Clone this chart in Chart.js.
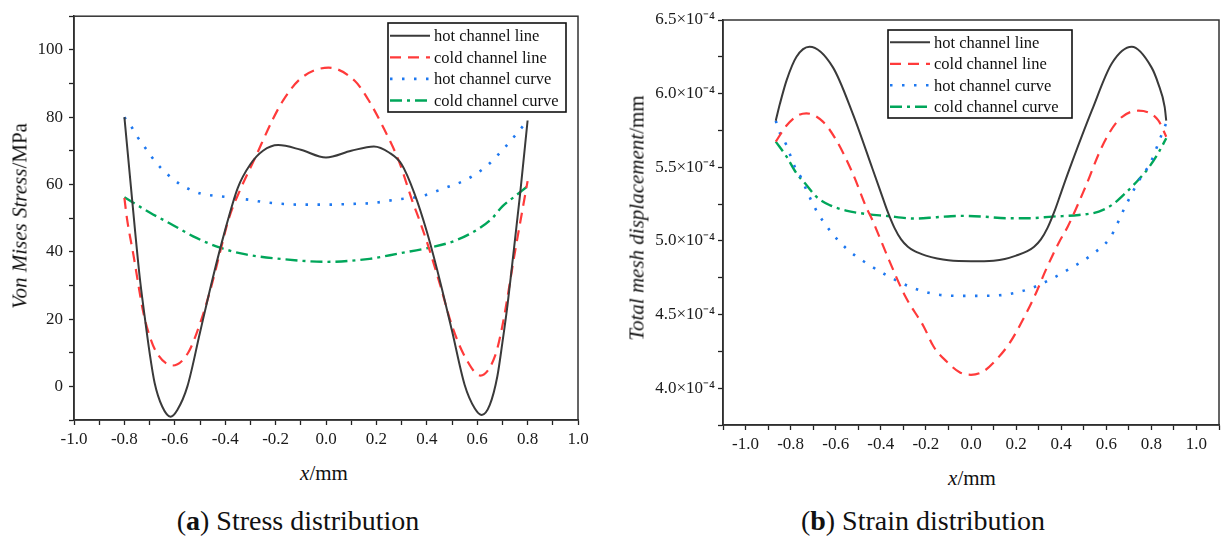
<!DOCTYPE html>
<html>
<head>
<meta charset="utf-8">
<script src="https://cdn.jsdelivr.net/npm/chart.js@4.4.1/dist/chart.umd.min.js"></script>
<style>
  body { margin: 0; background: #fff; width: 1223px; height: 540px; position: relative; overflow: hidden;
         font-family: "Liberation Serif", "Times New Roman", serif; color: #111; }
  canvas { position: absolute; top: 0; }
  .lbl { position: absolute; white-space: nowrap; transform: translate(-50%, -50%); }
  .ytitle { font-size: 21px; transform: translate(-50%, -50%) rotate(-90deg); }
  .xtitle { font-size: 21px; }
  .cap { font-size: 28px; }
</style>
</head>
<body>
<canvas id="stress" width="600" height="460" style="left:0px"></canvas>
<canvas id="strain" width="613" height="465" style="left:610px"></canvas>

<div class="lbl ytitle" style="left:20px; top:216px;"><i>Von Mises Stress</i>/MPa</div>
<div class="lbl xtitle" style="left:324px; top:473px;"><i>x</i>/mm</div>
<div class="lbl cap" style="left:298px; top:521px;">(<b>a</b>) Stress distribution</div>

<div class="lbl ytitle" style="left:637px; top:218px;"><i>Total mesh displacement</i>/mm</div>
<div class="lbl xtitle" style="left:972px; top:478px;"><i>x</i>/mm</div>
<div class="lbl cap" style="left:923px; top:521px;">(<b>b</b>) Strain distribution</div>

<script>
// ---- (a) stress, MPa ----
const stressHotLineX  = [-0.8, -0.77, -0.74, -0.72, -0.7, -0.68, -0.65, -0.617, -0.59, -0.55, -0.5, -0.45, -0.4, -0.35, -0.3, -0.25, -0.19, -0.1, 0, 0.1, 0.19, 0.25, 0.3, 0.35, 0.4, 0.45, 0.5, 0.55, 0.59, 0.618, 0.65, 0.68, 0.7, 0.72, 0.74, 0.77, 0.8];
const stressHotLineY  = [80, 56, 33, 21, 10, 1, -6, -9, -7, 0, 16, 32, 46.5, 59, 66, 70, 71.7, 70.3, 68, 70, 71.3, 69.5, 66, 57.5, 46, 32, 16.5, 0.5, -6.5, -8.5, -5.5, 3, 13, 24, 37, 57, 79];
const stressColdLineX = [-0.8, -0.79, -0.764, -0.725, -0.7, -0.672, -0.609, -0.547, -0.494, -0.454, -0.42, -0.385, -0.34, -0.282, -0.21, -0.17, -0.1, 0.01, 0.114, 0.166, 0.223, 0.29, 0.343, 0.375, 0.41, 0.45, 0.5, 0.555, 0.613, 0.672, 0.7, 0.75, 0.8];
const stressColdLineY = [56, 50, 39, 22, 15, 10, 6.2, 10, 20, 30, 40, 50, 58.5, 67.8, 79.5, 85, 91.5, 94.7, 90.8, 85.4, 77.6, 66.8, 55, 48.5, 40.7, 30.9, 18, 8.3, 3.2, 9.3, 18, 40, 61];
const stressHotCurveX = [-0.8, -0.771, -0.747, -0.72, -0.69, -0.66, -0.626, -0.586, -0.543, -0.498, -0.448, -0.4, -0.349, -0.3, -0.252, -0.203, -0.1, 0, 0.1, 0.186, 0.278, 0.377, 0.47, 0.556, 0.635, 0.7, 0.75, 0.8];
const stressHotCurveY = [80, 77, 74, 71.2, 68, 65.3, 62.8, 60.4, 58.6, 57.3, 56.7, 56.3, 55.8, 55.4, 54.8, 54.4, 54, 54, 54.2, 54.5, 55.5, 56.5, 58.9, 61.4, 65.3, 70.2, 74.5, 79];
const stressColdCurveX = [-0.8, -0.698, -0.619, -0.514, -0.42, -0.318, -0.17, 0, 0.173, 0.29, 0.41, 0.516, 0.609, 0.66, 0.7, 0.75, 0.8];
const stressColdCurveY = [56.2, 51.6, 48.4, 44.1, 41.2, 39.2, 37.8, 37, 37.9, 39.5, 41.2, 43.4, 47, 50, 53.5, 56.5, 59.5];
const stressXLabels = ["-1.0", "-0.8", "-0.6", "-0.4", "-0.2", "0.0", "0.2", "0.4", "0.6", "0.8", "1.0"];
const stressYLabels = ["0", "20", "40", "60", "80", "100"];

// ---- (b) strain, mm ----
const strainHotLineX  = [-0.866, -0.847, -0.818, -0.774, -0.716, -0.613, -0.525, -0.437, -0.4, -0.37, -0.34, -0.31, -0.28, -0.25, -0.2, -0.15, -0.1, 0, 0.1, 0.15, 0.2, 0.25, 0.28, 0.31, 0.34, 0.37, 0.4, 0.435, 0.537, 0.625, 0.713, 0.8, 0.83, 0.859, 0.866];
const strainHotLineY  = [5.816e-4, 5.934e-4, 6.09e-4, 6.25e-4, 6.318e-4, 6.18e-4, 5.866e-4, 5.49e-4, 5.33e-4, 5.2e-4, 5.09e-4, 5.01e-4, 4.96e-4, 4.93e-4, 4.9e-4, 4.88e-4, 4.868e-4, 4.862e-4, 4.866e-4, 4.877e-4, 4.9e-4, 4.93e-4, 4.96e-4, 5.01e-4, 5.09e-4, 5.2e-4, 5.33e-4, 5.48e-4, 5.889e-4, 6.206e-4, 6.318e-4, 6.18e-4, 6.07e-4, 5.91e-4, 5.816e-4];
const strainColdLineX = [-0.866, -0.82, -0.77, -0.73, -0.657, -0.598, -0.525, -0.466, -0.437, -0.364, -0.291, -0.21, -0.166, -0.108, -0.049, 0, 0.054, 0.112, 0.171, 0.23, 0.288, 0.332, 0.39, 0.43, 0.508, 0.581, 0.654, 0.742, 0.83, 0.866];
const strainColdLineY = [5.674e-4, 5.78e-4, 5.85e-4, 5.866e-4, 5.81e-4, 5.685e-4, 5.46e-4, 5.233e-4, 5.14e-4, 4.871e-4, 4.622e-4, 4.419e-4, 4.283e-4, 4.181e-4, 4.107e-4, 4.091e-4, 4.113e-4, 4.193e-4, 4.306e-4, 4.464e-4, 4.645e-4, 4.803e-4, 4.99e-4, 5.1e-4, 5.368e-4, 5.64e-4, 5.82e-4, 5.884e-4, 5.82e-4, 5.708e-4];
const strainHotCurveX = [-0.866, -0.847, -0.821, -0.782, -0.752, -0.73, -0.686, -0.628, -0.554, -0.464, -0.37, -0.272, -0.166, -0.06, 0.049, 0.156, 0.259, 0.354, 0.449, 0.539, 0.618, 0.684, 0.742, 0.798, 0.842, 0.866];
const strainHotCurveY = [5.816e-4, 5.73e-4, 5.658e-4, 5.504e-4, 5.425e-4, 5.346e-4, 5.206e-4, 5.075e-4, 4.95e-4, 4.849e-4, 4.763e-4, 4.69e-4, 4.64e-4, 4.627e-4, 4.627e-4, 4.636e-4, 4.674e-4, 4.74e-4, 4.821e-4, 4.91e-4, 5.025e-4, 5.233e-4, 5.402e-4, 5.538e-4, 5.708e-4, 5.80e-4];
const strainColdCurveX = [-0.866, -0.818, -0.774, -0.73, -0.686, -0.628, -0.554, -0.466, -0.378, -0.25, -0.152, -0.049, 0.054, 0.156, 0.259, 0.361, 0.479, 0.567, 0.625, 0.684, 0.742, 0.786, 0.83, 0.866];
const strainColdCurveY = [5.674e-4, 5.572e-4, 5.459e-4, 5.38e-4, 5.30e-4, 5.244e-4, 5.206e-4, 5.183e-4, 5.17e-4, 5.152e-4, 5.161e-4, 5.17e-4, 5.165e-4, 5.154e-4, 5.154e-4, 5.165e-4, 5.176e-4, 5.199e-4, 5.244e-4, 5.323e-4, 5.414e-4, 5.493e-4, 5.595e-4, 5.697e-4];
const strainXLabels = ["-1.0", "-0.8", "-0.6", "-0.4", "-0.2", "0.0", "0.2", "0.4", "0.6", "0.8", "1.0"];
const strainYLabels = ["4.0×10⁻⁴", "4.5×10⁻⁴", "5.0×10⁻⁴", "5.5×10⁻⁴", "6.0×10⁻⁴", "6.5×10⁻⁴"];
const strainYValues = [4.0e-4, 4.5e-4, 5.0e-4, 5.5e-4, 6.0e-4, 6.5e-4];

const seriesNames = ["hot channel line", "cold channel line", "hot channel curve", "cold channel curve"];

const FONT = "Liberation Serif";
const styles = [
  { color: "#3a3a3a", dash: [], width: 2 },
  { color: "#ff3a3a", dash: [11, 7], width: 2.2 },
  { color: "#1e78f0", dash: [2.5, 9.5], width: 2.6 },
  { color: "#00a65a", dash: [12, 5, 3, 5], width: 2.4 }
];

function toPoints(xs, ys) {
  return xs.map((x, i) => ({ x: x, y: ys[i] }));
}

function makeDatasets(pairs) {
  return pairs.map((p, i) => ({
    label: seriesNames[i],
    data: toPoints(p[0], p[1]),
    borderColor: styles[i].color,
    borderDash: styles[i].dash,
    borderWidth: styles[i].width,
    pointRadius: 0,
    fill: false,
    cubicInterpolationMode: "monotone"
  }));
}

// majors with labels, minors half way, plus half steps at both ends if in range
function buildTicks(majors, lo, hi) {
  const step = majors[1] - majors[0];
  const vals = [];
  const first = majors[0] - step / 2, last = majors[majors.length - 1] + step / 2;
  if (first >= lo - 1e-12) vals.push(first);
  majors.forEach((m, i) => {
    vals.push(m);
    if (i < majors.length - 1) vals.push(m + step / 2);
  });
  if (last <= hi + 1e-12) vals.push(last);
  return vals;
}

function labelFor(majors, labels) {
  const step = majors[1] - majors[0];
  return function (v) {
    for (let i = 0; i < majors.length; i++) {
      if (Math.abs(v - majors[i]) < step * 1e-3) return labels[i];
    }
    return "";
  };
}

const framePlugin = {
  id: "frame",
  afterDatasetsDraw(chart) {
    const a = chart.chartArea, ctx = chart.ctx;
    ctx.save();
    ctx.strokeStyle = "#333";
    ctx.lineWidth = 1.5;
    ctx.setLineDash([]);
    ctx.strokeRect(a.left, a.top, a.right - a.left, a.bottom - a.top);
    ctx.restore();
  }
};

const boxLegend = {
  id: "boxLegend",
  afterDraw(chart, args, o) {
    const ctx = chart.ctx;
    ctx.save();
    ctx.fillStyle = "#fff";
    ctx.fillRect(o.x, o.y, o.w, o.h);
    ctx.strokeStyle = "#111";
    ctx.lineWidth = 1.6;
    ctx.setLineDash([]);
    ctx.strokeRect(o.x, o.y, o.w, o.h);
    chart.data.datasets.forEach((ds, i) => {
      const y = o.row0 + i * o.rowStep;
      ctx.strokeStyle = ds.borderColor;
      ctx.lineWidth = ds.borderWidth;
      ctx.setLineDash(ds.borderDash);
      ctx.beginPath();
      ctx.moveTo(o.x + 2, y);
      ctx.lineTo(o.x + 42, y);
      ctx.stroke();
      ctx.setLineDash([]);
      ctx.fillStyle = "#111";
      ctx.font = "16.5px " + FONT;
      ctx.textBaseline = "middle";
      ctx.fillText(ds.label, o.x + 46, y + 1);
    });
    ctx.restore();
  }
};

function axisBase(min, max, majors, labels, pad) {
  return {
    type: "linear",
    min: min,
    max: max,
    afterBuildTicks: (s) => { s.ticks = buildTicks(majors, min, max).map(v => ({ value: v })); },
    ticks: {
      autoSkip: false, maxRotation: 0, minRotation: 0,
      padding: pad,
      color: "#1a1a1a",
      font: { family: FONT, size: 17 },
      callback: labelFor(majors, labels)
    },
    grid: { drawOnChartArea: false, drawTicks: true, tickLength: 5, tickColor: "#222", tickWidth: 1.3 },
    border: { display: true, color: "#222", width: 1.5 }
  };
}

function makeChart(id, datasets, xAxis, yAxis, yWidth, pad, legend) {
  xAxis.afterFit = (s) => { s.height = 40; };
  yAxis.afterFit = (s) => { s.width = yWidth; };
  return new Chart(document.getElementById(id), {
    type: "line",
    data: { datasets: datasets },
    options: {
      responsive: false,
      animation: false,
      layout: { padding: pad },
      scales: { x: xAxis, y: yAxis },
      plugins: { legend: { display: false }, tooltip: { enabled: false }, boxLegend: legend }
    },
    plugins: [framePlugin, boxLegend]
  });
}

const stressXMajors = stressXLabels.map(Number);
const stressYMajors = stressYLabels.map(Number);
makeChart("stress",
  makeDatasets([[stressHotLineX, stressHotLineY], [stressColdLineX, stressColdLineY],
                [stressHotCurveX, stressHotCurveY], [stressColdCurveX, stressColdCurveY]]),
  axisBase(-1, 1, stressXMajors, stressXLabels, 4),
  axisBase(-10, 110, stressYMajors, stressYLabels, 6),
  74, { top: 13, right: 22, left: 0, bottom: 0 },
  { x: 388, y: 23, w: 178, h: 89, row0: 35.7, rowStep: 21.6 });

const strainXMajors = strainXLabels.map(Number);
makeChart("strain",
  makeDatasets([[strainHotLineX, strainHotLineY], [strainColdLineX, strainColdLineY],
                [strainHotCurveX, strainHotCurveY], [strainColdCurveX, strainColdCurveY]]),
  axisBase(-1.1, 1.1, strainXMajors, strainXLabels, 4),
  axisBase(3.75e-4, 6.5e-4, strainYValues, strainYLabels, 3),
  113, { top: 20, right: 1, left: 0, bottom: 0 },
  { x: 278, y: 30, w: 184, h: 88, row0: 42.3, rowStep: 21.5 });
</script>
</body>
</html>
